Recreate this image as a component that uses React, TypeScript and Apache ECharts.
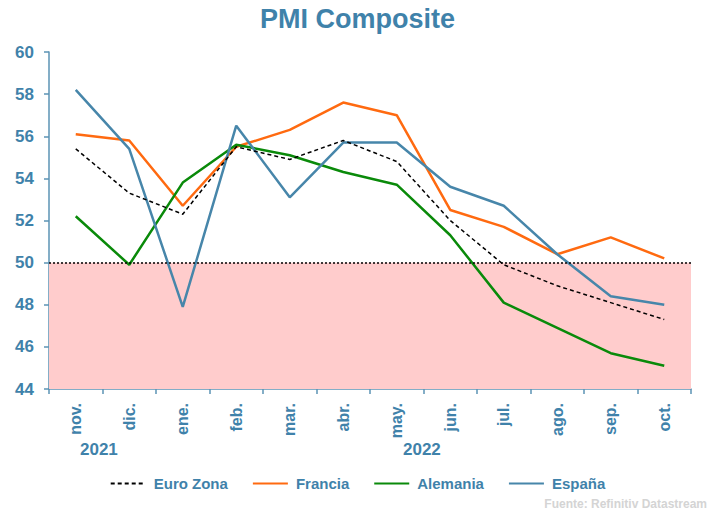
import React, { useEffect, useRef } from "react";
import * as echarts from "echarts";

const months = ["nov.", "dic.", "ene.", "feb.", "mar.", "abr.", "may.", "jun.", "jul.", "ago.", "sep.", "oct."];
const euroZona = [55.4, 53.3, 52.3, 55.5, 54.9, 55.8, 54.8, 52.0, 49.9, 48.9, 48.1, 47.3];
const francia = [56.1, 55.8, 52.7, 55.5, 56.3, 57.6, 57.0, 52.5, 51.7, 50.4, 51.2, 50.2];
const alemania = [52.2, 49.9, 53.8, 55.6, 55.1, 54.3, 53.7, 51.3, 48.1, 46.9, 45.7, 45.1];
const espana = [58.2, 55.4, 47.9, 56.5, 53.1, 55.7, 55.7, 53.6, 52.7, 50.4, 48.4, 48.0];
const yearLabels = ["2021", "2022"];
const threshold = 50;

const BLUE = "#3f82aa";
const FONT = "Liberation Sans, Arial, sans-serif";

export default function App() {
  const ref = useRef<HTMLDivElement>(null);
  useEffect(() => {
    if (!ref.current) return;
    const chart = echarts.init(ref.current, undefined, { renderer: "svg" });
    chart.setOption({
      animation: false,
      backgroundColor: "#ffffff",
      textStyle: { fontFamily: FONT },
      title: {
        text: "PMI Composite",
        left: "center",
        top: 0,
        textStyle: { color: BLUE, fontSize: 27, fontWeight: "bold", fontFamily: FONT },
      },
      grid: { left: 49, right: 24, top: 52, bottom: 122, containLabel: false },
      xAxis: {
        type: "category",
        data: months,
        boundaryGap: true,
        axisLine: { lineStyle: { color: "#5b93b5", width: 1.5 } },
        axisTick: { show: true, length: 5, lineStyle: { color: "#5b93b5", width: 1.5 } },
        axisLabel: {
          rotate: 90,
          interval: 0,
          color: BLUE,
          fontSize: 16,
          fontWeight: "bold",
          fontFamily: FONT,
          margin: 14,
        },
      },
      yAxis: {
        type: "value",
        min: 44,
        max: 60,
        interval: 2,
        splitLine: { show: false },
        axisLine: { show: true, lineStyle: { color: "#5b93b5", width: 1.5 } },
        axisTick: { show: true, length: 5, lineStyle: { color: "#5b93b5", width: 1.5 } },
        axisLabel: { color: BLUE, fontSize: 17, fontWeight: "bold", fontFamily: FONT, margin: 15 },
      },
      legend: {
        bottom: 15,
        left: "center",
        itemWidth: 35,
        itemHeight: 10,
        itemGap: 24,
        itemStyle: { opacity: 0 },
        textStyle: { color: BLUE, fontSize: 15, fontWeight: "bold", fontFamily: FONT, padding: [0, 0, 0, 3] },
        data: ["Euro Zona", "Francia", "Alemania", "España"],
      },
      series: [
        {
          name: "Euro Zona",
          type: "line",
          data: euroZona,
          symbol: "none",
          lineStyle: { color: "#000000", width: 1.5, type: [4, 3] },
          itemStyle: { color: "#000000" },
          z: 5,
          markArea: {
            silent: true,
            itemStyle: { color: "#ffcccc" },
            data: [[{ yAxis: 44 }, { yAxis: threshold }]],
          },
          markLine: {
            silent: true,
            symbol: "none",
            label: { show: false },
            lineStyle: { color: "#000000", type: [2, 2], width: 1.5 },
            data: [{ yAxis: threshold }],
          },
        },
        {
          name: "Francia",
          type: "line",
          data: francia,
          symbol: "none",
          lineStyle: { color: "#ff6a10", width: 2.5 },
          itemStyle: { color: "#ff6a10" },
          z: 3,
        },
        {
          name: "Alemania",
          type: "line",
          data: alemania,
          symbol: "none",
          lineStyle: { color: "#0a8a0a", width: 2.5 },
          itemStyle: { color: "#0a8a0a" },
          z: 3,
        },
        {
          name: "España",
          type: "line",
          data: espana,
          symbol: "none",
          lineStyle: { color: "#4786aa", width: 2.5 },
          itemStyle: { color: "#4786aa" },
          z: 4,
        },
      ],
      graphic: [
        {
          type: "text",
          left: 80,
          top: 441,
          style: { text: yearLabels[0], fill: BLUE, font: "bold 17px " + FONT },
        },
        {
          type: "text",
          left: 403,
          top: 441,
          style: { text: yearLabels[1], fill: BLUE, font: "bold 17px " + FONT },
        },
        {
          type: "text",
          right: 8,
          top: 498,
          style: { text: "Fuente: Refinitiv Datastream", fill: "#d4d4d4", font: "bold 12px " + FONT },
        },
      ],
    });
    return () => chart.dispose();
  }, []);
  return <div ref={ref} style={{ width: 715, height: 511, position: "absolute", left: 0, top: 0 }} />;
}
